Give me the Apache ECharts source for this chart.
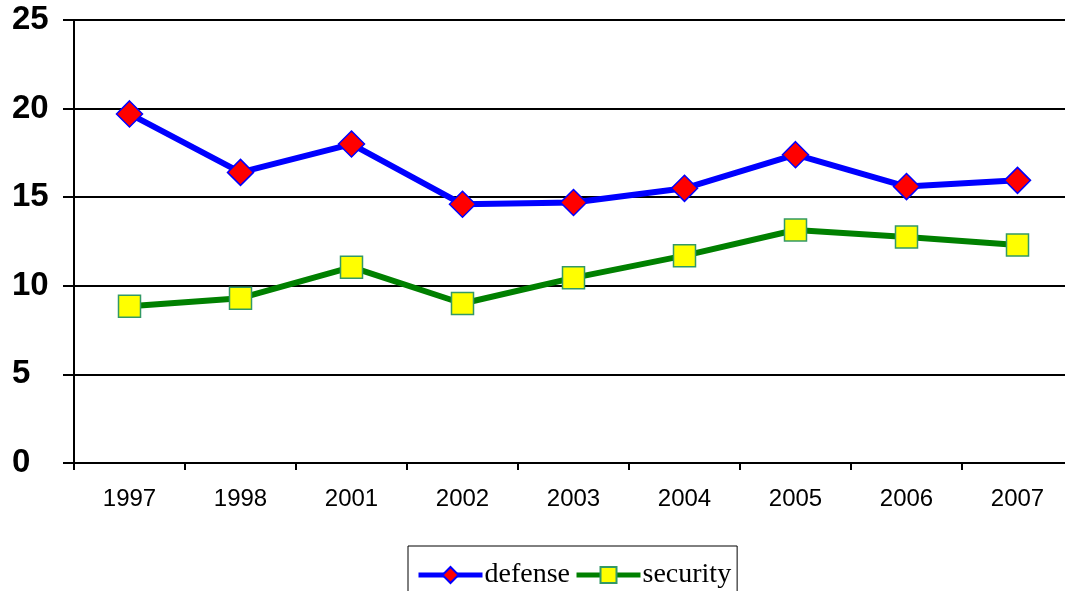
<!DOCTYPE html>
<html><head><meta charset="utf-8">
<script src="https://cdn.jsdelivr.net/npm/echarts@6/dist/echarts.min.js"></script>
<style>html,body{margin:0;padding:0;background:#fff;overflow:hidden}#c{width:1081px;height:591px}</style>
</head><body><div id="c"></div>
<script>
const categories = ['1997','1998','2001','2002','2003','2004','2005','2006','2007'];
const defense = [19.7, 16.4, 18.0, 14.6, 14.7, 15.5, 17.4, 15.6, 15.95];
const security = [8.85, 9.3, 11.05, 9.0, 10.45, 11.7, 13.15, 12.75, 12.3];
const yTicks = [0, 5, 10, 15, 20, 25];

const chart = echarts.init(document.getElementById('c'), null, {renderer:'canvas'});
chart.setOption({
  animation: false,
  grid: {left: 74, right: 8, top: 20, bottom: 128, containLabel: false},
  xAxis: {
    type: 'category', data: categories, boundaryGap: true,
    axisLine: {lineStyle: {color: '#000', width: 2}},
    axisTick: {show: true, length: 7, lineStyle: {color: '#000', width: 2}},
    axisLabel: {color: '#000', fontFamily: 'Liberation Sans', fontSize: 24, margin: 24}
  },
  yAxis: {
    type: 'value', min: yTicks[0], max: yTicks[yTicks.length-1], interval: 5,
    axisLine: {show: true, lineStyle: {color: '#000', width: 2}},
    axisTick: {show: true, inside: false, length: 11, lineStyle: {color: '#000', width: 2}},
    axisLabel: {color: '#000', fontFamily: 'Liberation Sans', fontSize: 33, fontWeight: 'bold', align: 'left', margin: 62},
    splitLine: {lineStyle: {color: '#000', width: 2}}
  },
  legend: {
    top: 546, left: 408, padding: [15, 6, 10, 8], itemGap: 4,
    borderColor: '#000', borderWidth: 1,
    itemWidth: 64, itemHeight: 20,
    lineStyle: {width: 5},
    textStyle: {fontFamily: 'Liberation Serif', fontSize: 28, color: '#000', padding: [2,0,0,-3]},
    data: ['defense', 'security']
  },
  series: [
    {
      name: 'defense', type: 'line', data: defense,
      symbol: 'diamond', symbolSize: 26,
      lineStyle: {color: '#0000ff', width: 6},
      itemStyle: {color: '#ff0000', borderColor: '#0000ff', borderWidth: 1.5}
    },
    {
      name: 'security', type: 'line', data: security,
      symbol: 'rect', symbolSize: 22,
      lineStyle: {color: '#008000', width: 6},
      itemStyle: {color: '#ffff00', borderColor: '#339966', borderWidth: 1.5}
    }
  ]
});
</script></body></html>
